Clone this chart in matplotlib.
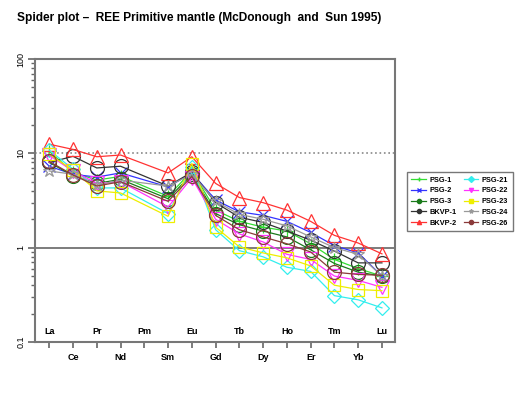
import numpy as np
import matplotlib
matplotlib.use('Agg')
import matplotlib.pyplot as plt
from matplotlib.ticker import LogLocator, NullFormatter, FixedLocator

plt.rcParams['font.family'] = ['Liberation Sans', 'DejaVu Sans']

elements = ['La', 'Ce', 'Pr', 'Nd', 'Pm', 'Sm', 'Eu', 'Gd', 'Tb', 'Dy', 'Ho', 'Er', 'Tm', 'Yb', 'Lu']
# Pm not analysed -> None
psg1 = [10.5, 6.3, 5.2, 5.7, None, 3.5, 6.5, 2.5, 1.9, 1.65, 1.5, 1.1, 0.75, 0.6, 0.5]
psg2 = [7.3, 6.0, 5.6, 6.2, None, 4.4, 6.2, 3.2, 2.4, 2.2, 1.9, 1.45, 1.05, 0.88, 0.5]
psg3 = [8.0, 5.8, 4.8, 5.3, None, 3.3, 6.0, 2.3, 1.75, 1.5, 1.3, 0.95, 0.68, 0.55, 0.5]
bkvp1 = [8.0, 9.3, 7.0, 7.3, None, 4.5, 6.3, 3.0, 2.1, 1.85, 1.5, 1.2, 0.92, 0.69, 0.69]
bkvp2 = [12.5, 11.0, 9.2, 9.6, None, 6.2, 9.2, 4.8, 3.4, 3.0, 2.5, 1.9, 1.35, 1.12, 0.86]
psg21 = [10.8, 6.8, 4.3, 4.3, None, 2.3, 7.2, 1.55, 0.93, 0.8, 0.62, 0.56, 0.31, 0.28, 0.23]
psg22 = [9.5, 6.5, 4.8, 5.0, None, 2.7, 5.5, 2.0, 1.4, 1.15, 0.85, 0.75, 0.5, 0.45, 0.38]
psg23 = [9.8, 6.6, 4.0, 3.8, None, 2.15, 7.8, 1.65, 1.02, 0.88, 0.78, 0.64, 0.4, 0.36, 0.35]
psg24 = [6.5, 6.0, 4.6, 5.2, None, 4.5, 6.0, 3.1, 2.25, 2.0, 1.7, 1.3, 1.0, 0.85, 0.5]
psg26 = [8.2, 5.9, 4.5, 5.0, None, 3.1, 5.7, 2.2, 1.55, 1.3, 1.1, 0.9, 0.55, 0.52, 0.51]

series = [
    ('PSG-1', psg1, '#33dd33', '+'),
    ('PSG-2', psg2, '#3333ff', 'x'),
    ('PSG-3', psg3, '#1a7a1a', 'o'),
    ('BKVP-1', bkvp1, '#333333', 'o'),
    ('BKVP-2', bkvp2, '#ff3333', '^'),
    ('PSG-21', psg21, '#33eeee', 'D'),
    ('PSG-22', psg22, '#ff33ff', 'v'),
    ('PSG-23', psg23, '#eeee00', 's'),
    ('PSG-24', psg24, '#999999', '*'),
    ('PSG-26', psg26, '#8b3a3a', 'o'),
]

fig = plt.figure(figsize=(5.32, 3.95), dpi=100)
ax = fig.add_axes([0.0658, 0.1342, 0.6767, 0.7164])

x = np.arange(1, len(elements) + 1)
handles = []
for name, vals, col, mk in series:
    xs = [xi for xi, v in zip(x, vals) if v is not None]
    ys = [v for v in vals if v is not None]
    ms = 10 if mk in ('^', 'v', 'o') else 9
    if mk == 'D':
        ms = 7.5
    ax.plot(xs, ys, color=col, lw=0.9, marker=mk, ms=ms, mfc='none', mec=col, mew=0.9)
    h, = ax.plot([], [], color=col, lw=0.9, marker=mk, ms=3, mfc=col, mec=col)
    handles.append((h, name))

ax.axhline(10, color='#888888', ls=':', lw=1.2, zorder=0)
ax.axhline(1, color='#666666', ls='-', lw=1.2, zorder=0)

ax.set_yscale('log')
ax.set_ylim(0.1, 100)
ax.set_xlim(0.4, 15.55)
ax.yaxis.set_major_locator(FixedLocator([0.1, 1, 10, 100]))
ax.set_yticklabels(['0.1', '1', '10', '100'], rotation=90, va='center', fontsize=6.5)
ax.yaxis.set_minor_locator(LogLocator(base=10, subs=np.arange(2, 10)))
ax.yaxis.set_minor_formatter(NullFormatter())
ax.tick_params(axis='y', which='major', length=5, color='#666666', width=1.2, pad=2)
ax.tick_params(axis='y', which='minor', length=3, color='#666666', width=1)

ax.set_xticks(x)
ax.set_xticklabels([''] * len(x))
ax.tick_params(axis='x', length=4, color='#666666', width=1.2)

for i, el in enumerate(elements):
    if i % 2 == 0:
        ax.text(x[i], 0.115, el, ha='center', va='bottom', fontsize=6.5, fontweight='bold')
    else:
        ax.text(x[i], 0.068, el, ha='center', va='center', fontsize=6.5, fontweight='bold', clip_on=False)

for s in ax.spines.values():
    s.set_color('#777777')
    s.set_linewidth(1.5)

leg = fig.legend([h for h, _ in handles], [n for _, n in handles], ncol=2,
                 loc='upper left', bbox_to_anchor=(407 / 532, 1 - 172 / 395),
                 borderaxespad=0,
                 prop={'weight': 'bold', 'size': 5.3}, frameon=True, fancybox=False,
                 edgecolor='#555555', handlelength=2.0, handletextpad=0.5,
                 columnspacing=0.9, labelspacing=0.5, borderpad=0.6)
leg.get_frame().set_linewidth(1.0)

fig.text(17 / 532, 1 - 18 / 395, 'Spider plot \u2013  REE Primitive mantle (McDonough  and  Sun 1995)',
         fontsize=8.6, fontweight='bold', va='center', ha='left')

fig.savefig('out.png', dpi=100)
